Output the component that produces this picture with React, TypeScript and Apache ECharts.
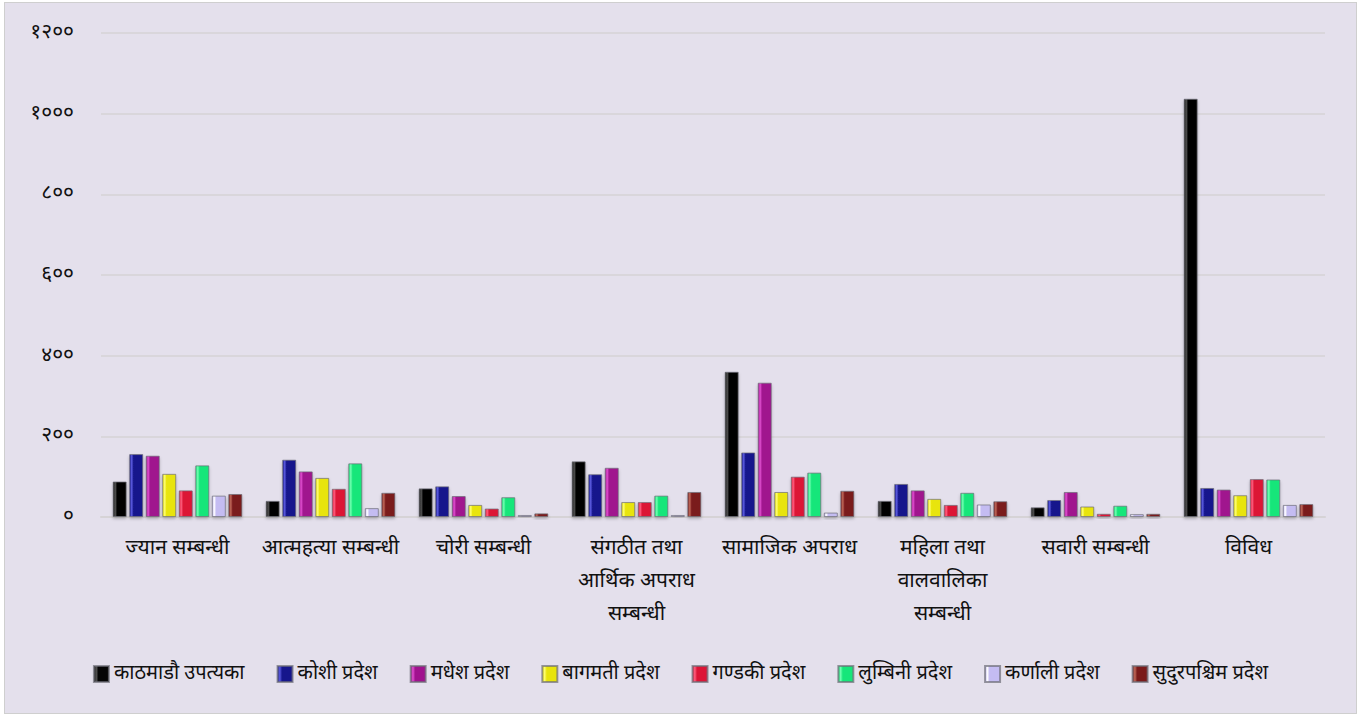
import React, { useEffect, useRef } from "react";
import * as echarts from "echarts";

const categories = [
  "ज्यान सम्बन्धी",
  "आत्महत्या सम्बन्धी",
  "चोरी सम्बन्धी",
  "संगठीत तथा\nआर्थिक अपराध\nसम्बन्धी",
  "सामाजिक अपराध",
  "महिला तथा\nवालवालिका\nसम्बन्धी",
  "सवारी सम्बन्धी",
  "विविध",
];

const seriesNames = [
  "काठमाडौ उपत्यका",
  "कोशी प्रदेश",
  "मधेश प्रदेश",
  "बागमती प्रदेश",
  "गण्डकी प्रदेश",
  "लुम्बिनी प्रदेश",
  "कर्णाली प्रदेश",
  "सुदुरपश्चिम प्रदेश",
];

const kathmandu = [88, 40, 71, 138, 360, 40, 24, 1037];
const koshi = [156, 142, 76, 106, 160, 82, 42, 72];
const madhesh = [152, 113, 52, 122, 333, 66, 62, 68];
const bagmati = [107, 97, 30, 37, 62, 45, 26, 54];
const gandaki = [66, 70, 21, 37, 100, 30, 8, 94];
const lumbini = [128, 133, 49, 53, 110, 60, 28, 93];
const karnali = [53, 22, 5, 5, 11, 31, 7, 30];
const sudurpaschim = [57, 60, 9, 62, 65, 39, 8, 32];

const seriesData = [kathmandu, koshi, madhesh, bagmati, gandaki, lumbini, karnali, sudurpaschim];

const colors = ["#050505", "#16168c", "#a0128e", "#e8e40a", "#dc1436", "#16e67a", "#c4bcf2", "#7a1a1a"];
const lightColors = ["#5a5a5a", "#5a5ae0", "#e050d0", "#ffff70", "#ff6080", "#70ffb0", "#ffffff", "#c06a5a"];

const yTicks = [0, 200, 400, 600, 800, 1000, 1200];
const devDigits = ["०", "१", "२", "३", "४", "५", "६", "७", "८", "९"];
const toDev = (n: number) => String(n).split("").map((c) => devDigits[+c] ?? c).join("");

const FONT = "'Noto Sans Devanagari', 'Noto Sans', 'Lohit Devanagari', sans-serif";

export default function App() {
  const ref = useRef<HTMLDivElement>(null);
  useEffect(() => {
    if (!ref.current) return;
    const chart = echarts.init(ref.current, undefined, { renderer: "svg" });
    chart.setOption({
      animation: false,
      backgroundColor: "#e4e0ec",
      color: colors,
      grid: { left: 96, right: 31, top: 30, bottom: 196 },
      legend: {
        bottom: 24,
        left: "center",
        icon: "rect",
        itemWidth: 15,
        itemHeight: 16,
        itemGap: 32,
        textStyle: { fontFamily: FONT, fontSize: 20, color: "#111" },
        data: seriesNames,
      },
      xAxis: {
        type: "category",
        data: categories,
        axisLine: { show: true, lineStyle: { color: "#d6d3d6", width: 2 } },
        axisTick: { show: false },
        axisLabel: {
          interval: 0,
          margin: 15,
          fontFamily: FONT,
          fontSize: 21,
          lineHeight: 33,
          color: "#111",
        },
      },
      yAxis: {
        type: "value",
        min: 0,
        max: 1200,
        interval: 200,
        axisLine: { show: false },
        axisTick: { show: false },
        splitLine: { lineStyle: { color: "#d6d3d6", width: 1.5 } },
        axisLabel: {
          margin: 27,
          fontFamily: FONT,
          fontSize: 21,
          color: "#111",
          formatter: (v: number) => (yTicks.includes(v) ? toDev(v) : ""),
        },
      },
      series: seriesNames.map((name, i) => ({
        name,
        type: "bar",
        data: seriesData[i],
        barWidth: 14,
        barGap: "18%",
        itemStyle: {
          color: new echarts.graphic.LinearGradient(0, 0, 1, 0, [
            { offset: 0, color: colors[i] },
            { offset: 0.15, color: lightColors[i] },
            { offset: 0.3, color: colors[i] },
            { offset: 0.75, color: colors[i] },
            { offset: 1, color: colors[i] },
          ]),
          borderColor: "rgba(110,110,120,0.7)",
          borderWidth: 1,
          shadowColor: "rgba(0,0,0,0.25)",
          shadowBlur: 3,
          shadowOffsetY: 2,
        },
      })),
    });
    return () => chart.dispose();
  }, []);
  return (
    <div
      style={{
        position: "absolute",
        left: 4,
        top: 2,
        width: 1353,
        height: 712,
        border: "1px solid #cfcfcf",
        boxSizing: "border-box",
      }}
    >
      <div ref={ref} style={{ width: "100%", height: "100%" }} />
    </div>
  );
}
